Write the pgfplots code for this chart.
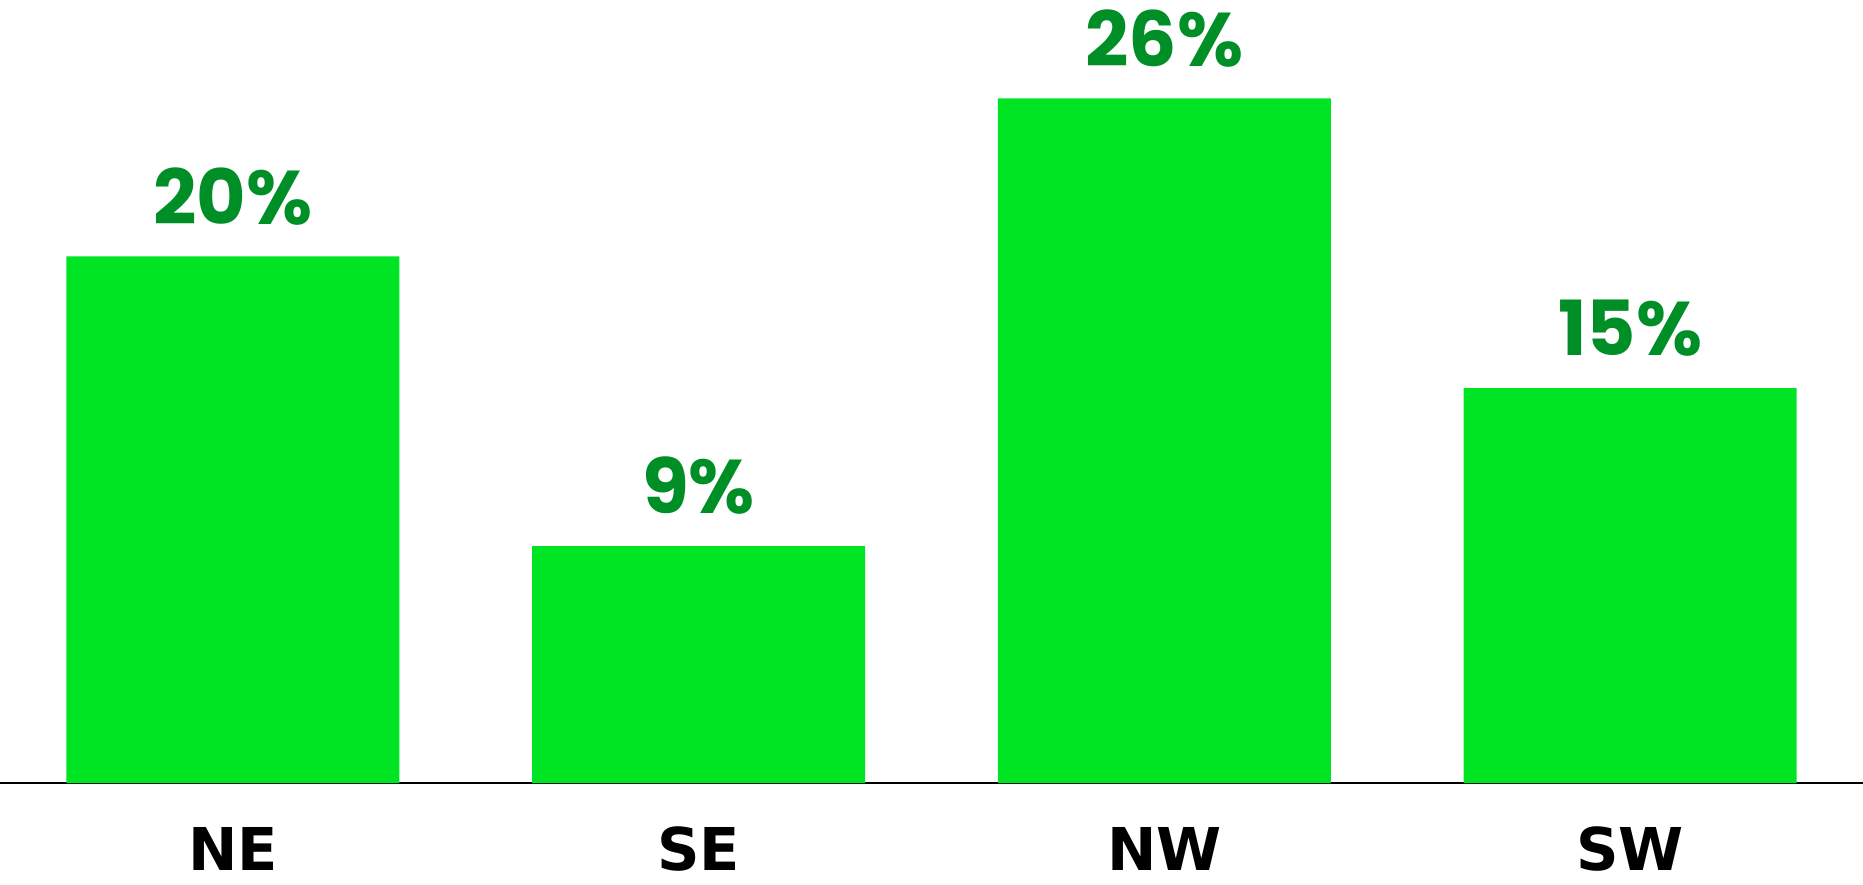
\documentclass[border=0pt]{standalone}
\usepackage{pgfplots}
\pgfplotsset{compat=1.18}
\usepackage{fontspec}
\setmainfont{Poppins}
\newfontfamily\catfont{DejaVu Sans}
\definecolor{barg}{RGB}{0,229,35}
\definecolor{labg}{RGB}{0,142,38}
\begin{document}
\begin{tikzpicture}
\begin{axis}[
  at={(0,0)}, anchor=south west,
  scale only axis,
  width=931.5pt, height=391.5pt,
  xmin=-0.5, xmax=3.5,
  ymin=0, ymax=29.74,
  axis x line=bottom,
  axis y line=none,
  axis line style={black, line width=1.1pt, -},
  xtick={0,1,2,3},
  xticklabels={NE,SE,NW,SW},
  major tick length=0pt,
  xticklabel style={font=\catfont\fontsize{29.5}{29.5}\selectfont\bfseries, text height=21.5pt, text depth=0pt, inner sep=0pt, anchor=north, yshift=-22pt},
  ytick=\empty,
  ybar, bar width=166.5pt,
  /pgf/number format/assume math mode=true,
  nodes near coords={\pgfmathprintnumber{\pgfplotspointmeta}\%},
  nodes near coords style={font=\fontsize{38}{38}\selectfont\bfseries, color=labg, text height=26.5pt, text depth=0pt, inner sep=0pt, anchor=south, yshift=16pt},
  clip=false,
]
\addplot[fill=barg, draw=none] coordinates {(0,20) (1,9) (2,26) (3,15)};
\end{axis}
\pgfresetboundingbox
\path (0,-50.5pt) rectangle (931.5pt,391.5pt);
\end{tikzpicture}
\end{document}
